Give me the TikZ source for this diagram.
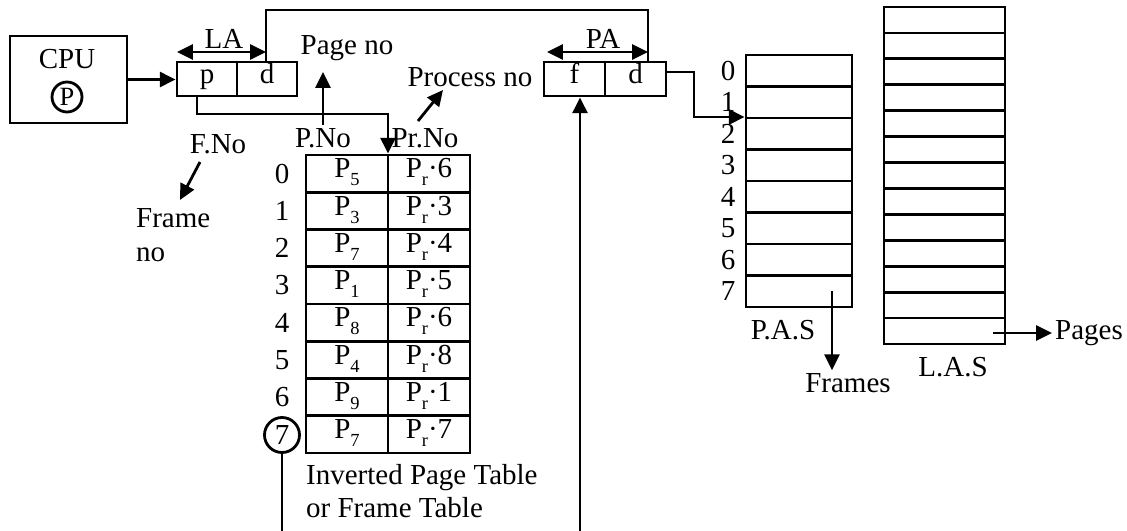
\documentclass[tikz,border=0pt]{standalone}
\usepackage{fontspec}
\setmainfont{Liberation Serif}
\usetikzlibrary{arrows.meta,calc}
\newcommand\lowsub[1]{\raisebox{-0.6ex}{\fontsize{10.5}{11}\selectfont #1}}
\begin{document}
\begin{tikzpicture}[x=0.02cm,y=-0.02cm,line width=1.6pt,
  every node/.style={font=\fontsize{16.5}{19}\selectfont,inner sep=1pt},
  tip/.tip={Triangle[length=9pt,width=8.5pt]},
  arr/.style={-tip},
  dimarr/.style={tip-tip},
  cell/.style={draw,inner sep=0pt,minimum width=#1,minimum height=0.68cm,
    text height=0.7em,text depth=0.22em},
  tcell/.style={draw,inner sep=0pt,minimum width=1.64cm,minimum height=0.745cm,
    text height=0.7em,text depth=0.22em},
  pasrow/.style={draw,inner sep=0pt,minimum width=2.12cm,minimum height=0.63cm},
  lasrow/.style={draw,inner sep=0pt,minimum width=2.42cm,minimum height=0.5185cm}]
\useasboundingbox (0,0) rectangle (1127,531);
\clip (0,0) rectangle (1127,531);

% CPU
\node[draw,minimum width=2.34cm,minimum height=1.74cm] (cpu) at (68.5,79.5) {};
\node (cputxt) at (67,59) {CPU};
\node[draw,circle,minimum size=0.6cm,inner sep=0pt,font=\fontsize{15}{17}\selectfont] (preg) at (67,97) {P};

% logical and physical address registers
\node[cell=1.2cm] (lap) at (207,79) {p};
\node[cell=1.2cm] (lad) at (267,79) {d};
\node[cell=1.22cm] (paf) at (574.5,79) {f};
\node[cell=1.22cm] (pad) at (635.5,79) {d};
\node (la) at (224,39) {LA};
\node (pa) at (603,39) {PA};

% inverted page table
\foreach \pn/\pr [count=\i from 0] in {5/6,3/3,7/4,1/5,8/6,4/8,9/1,7/7} {
  \node[tcell] (ta\i) at (347,{155+37.25*(\i+0.5)}) {P\lowsub{\pn}};
  \node[tcell] (tb\i) at (429,{155+37.25*(\i+0.5)}) {P\lowsub{r}·\pr};
}
\foreach \i in {0,...,6} {
  \node (rn\i) at (282,{155+37.25*(\i+0.5)}) {\i};
}
\node[draw,circle,minimum size=0.7cm,inner sep=0pt] (seven) at (282,435) {7};
\node[align=left,anchor=west] (ipt) at (303,491) {Inverted Page Table\\or Frame Table};

% physical and logical address spaces
\foreach \i in {0,...,7} {
  \node[pasrow] (pas\i) at (799,{55+31.5*(\i+0.5)}) {};
  \node (pasn\i) at (728,{55+31.5*(\i+0.5)}) {\i};
}
\foreach \i in {0,...,12} {
  \node[lasrow] (las\i) at (944.5,{7+25.923*(\i+0.5)}) {};
}
\node (pasl) at (783,330) {P.A.S};
\node (frames) at (848,383) {Frames};
\node (lasl) at (953,367) {L.A.S};
\node[anchor=west] (pages) at (1052,333) {Pages};

% labels
\node (pageno) at (347,48) {Page no};
\node (procno) at (470,77) {Process no};
\node (pno) at (323,138) {P.No};
\node (prno) at (425,138) {Pr.No};
\node (fno) at (218,144) {F.No};
\node[align=left,anchor=west] (frameno) at (133,235) {Frame\\no};

% connectors
\draw[arr] (cpu.east) -- (cpu.east -| lap.west);
\coordinate (laL) at (177,52);
\coordinate (laR) at (266,52);
\coordinate (paL) at (547,52);
\coordinate (paR) at (648,52);
\draw[dimarr] (laL) -- (laR);
\draw[dimarr] (paL) -- (paR);
\draw (lad.north -| laR) -- (laR |- 0,10) -| (paR |- pad.north);

\coordinate (tturn) at (388,114);
\draw[arr] ([xshift=-0.2cm]lap.south) |- (tturn) -- (tturn |- tb0.north);

\draw[arr] (pno.north) -- (pno.north |- 0,72);
\coordinate (prs) at (418,121);
\coordinate (pre) at (443,90);
\draw[arr] (prs) -- (pre);
\coordinate (fs) at (200,162);
\coordinate (fe) at (180,200);
\draw[arr] (fs) -- (fe);

\coordinate (pturn) at (694,117);
\draw[arr] (pad.east |- 0,72) -| (pturn) -- (pturn -| pas1.west);

\coordinate (fra) at (832,291);
\draw[arr] (fra) -- (fra |- frames.north);
\coordinate (pga) at (993,333);
\draw[arr] (pga) -- (pages.west);

\coordinate (bot) at (430,545);
\coordinate (fx) at (580,0);
\draw[arr] (seven.south) |- (bot) -| (paf.south -| fx);
\end{tikzpicture}
\end{document}
